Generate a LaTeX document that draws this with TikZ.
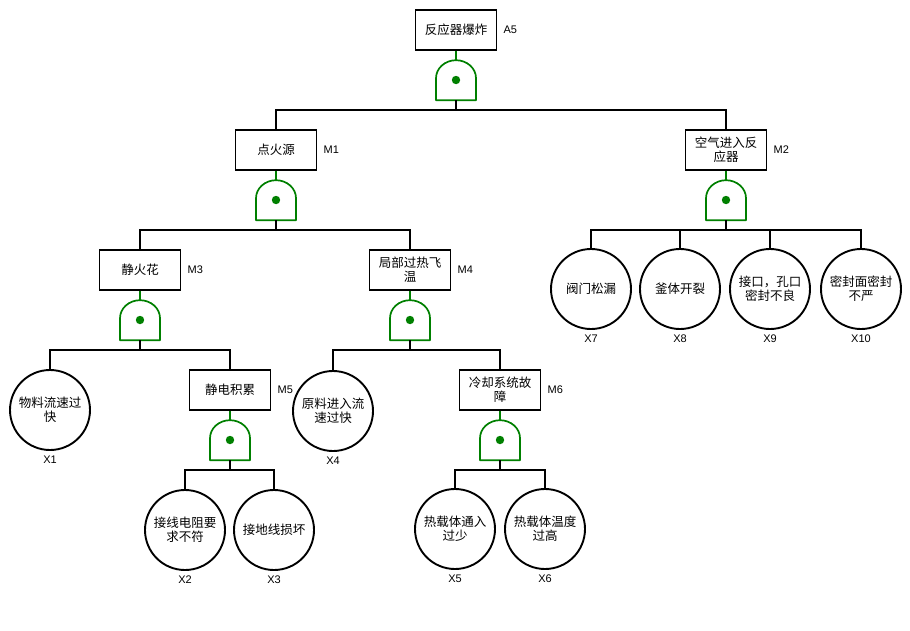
\documentclass[tikz,border=0pt]{standalone}
\usepackage{fontspec}
\setmainfont{Liberation Sans}
\newfontfamily\cjk{Noto Sans CJK SC}
\definecolor{gatecol}{RGB}{0,128,0}
\newcommand\fgate[1]{%
  \draw[gconn,line join=round] ([xshift=-20pt]#1.south) -- ([xshift=20pt]#1.south) -- ++(0,-22)
    arc[start angle=0,end angle=-180,x radius=20,y radius=18] -- cycle;
  \fill[gatecol] (#1.center) circle[radius=4.2pt];}
\begin{document}
\begin{tikzpicture}[x=1pt,y=-1pt,
  evt/.style={draw,line width=1.9pt,minimum width=81pt,minimum height=40pt,inner sep=1pt,align=center,
    font=\cjk\fontsize{12.5}{14}\selectfont},
  basic/.style={draw,circle,line width=1.9pt,minimum size=80pt,inner sep=0pt,align=center,
    font=\cjk\fontsize{12.5}{14}\selectfont},
  gatebox/.style={minimum width=40pt,minimum height=40pt,inner sep=0pt},
  lab/.style={font=\fontsize{11}{13}\selectfont,inner sep=0pt},
  conn/.style={line width=1.8pt,draw=black},
  gconn/.style={line width=1.7pt,draw=gatecol}]
\useasboundingbox[fill=white] (0,0) rectangle (910,630);

% events
\node[evt] (a5) at (456,30) {反应器爆炸};
\node[gatebox] (g0) at (456,80) {};
\node[evt] (m1) at (276,150) {点火源};
\node[gatebox] (g1) at (276,200) {};
\node[evt] (m2) at (726,150) {空气进入反\\应器};
\node[gatebox] (g2) at (726,200) {};
\node[evt] (m3) at (140,270) {静火花};
\node[gatebox] (g3) at (140,320) {};
\node[evt] (m4) at (410,270) {局部过热飞\\温};
\node[gatebox] (g4) at (410,320) {};
\node[evt] (m5) at (230,390) {静电积累};
\node[gatebox] (g5) at (230,440) {};
\node[evt] (m6) at (500,390) {冷却系统故\\障};
\node[gatebox] (g6) at (500,440) {};

% basic events
\node[basic] (x1) at (50,410) {物料流速过\\快};
\node[basic] (x2) at (185,530) {接线电阻要\\求不符};
\node[basic] (x3) at (274,530) {接地线损坏};
\node[basic] (x4) at (333,411) {原料进入流\\速过快};
\node[basic] (x5) at (455,529) {热载体通入\\过少};
\node[basic] (x6) at (545,529) {热载体温度\\过高};
\node[basic] (x7) at (591,289) {阀门松漏};
\node[basic] (x8) at (680,289) {釜体开裂};
\node[basic] (x9) at (770,289) {接口，孔口\\密封不良};
\node[basic] (x10) at (861,289) {密封面密封\\不严};

% gate labels
\foreach \n/\t in {a5/A5,m1/M1,m2/M2,m3/M3,m4/M4,m5/M5,m6/M6}
  \node[lab,anchor=west] (l\n) at ([xshift=6pt]\n.east) {\t};
\foreach \n/\t in {x1/X1,x2/X2,x3/X3,x4/X4,x5/X5,x6/X6,x7/X7,x8/X8,x9/X9,x10/X10}
  \node[lab] (l\n) at ([yshift=-50pt]\n.center) {\t};

% gates
\foreach \g in {g0,g1,g2,g3,g4,g5,g6} {\fgate{\g}}

% box to gate
\foreach \m/\g in {a5/g0,m1/g1,m2/g2,m3/g3,m4/g4,m5/g5,m6/g6}
  \draw[gconn] (\m.south) -- (\g.north);

% gate to children
\foreach \g/\c in {g0/m1,g0/m2,g1/m3,g1/m4,g2/x7,g2/x8,g2/x9,g2/x10,
                   g3/x1,g3/m5,g4/x4,g4/m6,g5/x2,g5/x3,g6/x5,g6/x6}
  \draw[conn] (\g.south) -- ++(0,10) -| (\c.north);
\end{tikzpicture}
\end{document}
